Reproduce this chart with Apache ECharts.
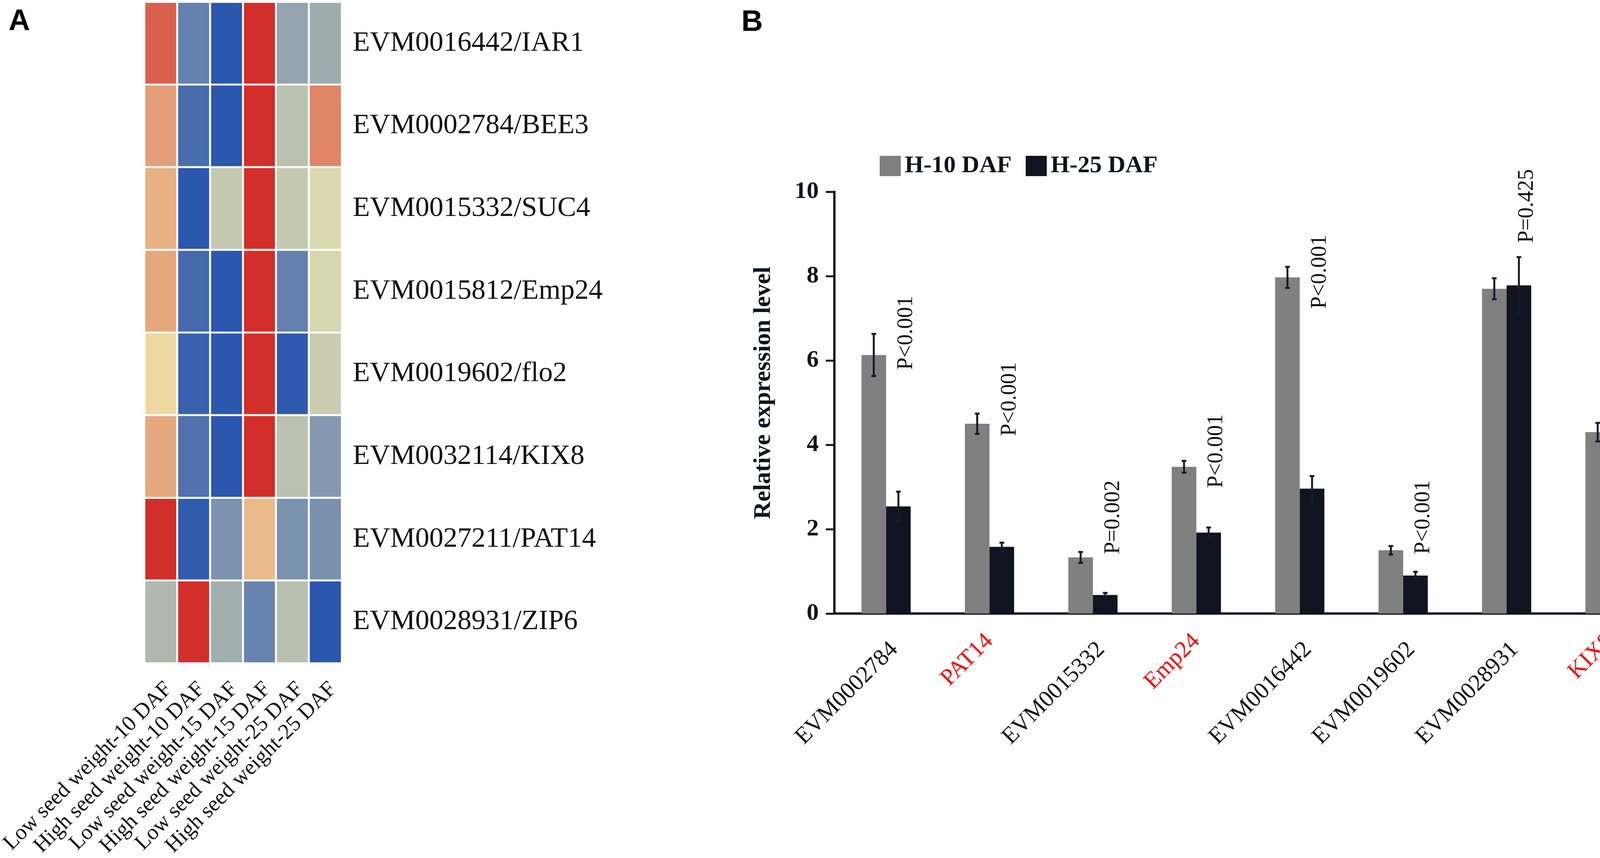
<!DOCTYPE html>
<html>
<head>
<meta charset="utf-8">
<script src="https://cdn.jsdelivr.net/npm/echarts@6/dist/echarts.min.js"></script>
<style>
  html, body { margin: 0; padding: 0; background: #fff; }
  #main { width: 4317px; height: 2197px; }
</style>
</head>
<body>
<div id="main"></div>
<script>
// heatmap (panel A)
var heatCols = ['Low seed weight-10 DAF', 'High seed weight-10 DAF', 'Low seed weight-15 DAF',
                'High seed weight-15 DAF', 'Low seed weight-25 DAF', 'High seed weight-25 DAF'];
var heatRows = ['EVM0016442/IAR1', 'EVM0002784/BEE3', 'EVM0015332/SUC4', 'EVM0015812/Emp24',
                'EVM0019602/flo2', 'EVM0032114/KIX8', 'EVM0027211/PAT14', 'EVM0028931/ZIP6'];
var heatValues = [
    [0.80, -0.79, -1.00, 1.00, -0.61, -0.57],
    [0.56, -0.89, -1.00, 1.00, -0.47, 0.66],
    [0.49, -1.00, -0.43, 1.00, -0.43, -0.35],
    [0.53, -0.91, -1.00, 1.00, -0.79, -0.36],
    [0.33, -0.95, -1.00, 1.00, -0.99, -0.41],
    [0.52, -0.87, -1.00, 1.00, -0.47, -0.67],
    [1.00, -0.98, -0.70, 0.46, -0.70, -0.71],
    [-0.51, 1.00, -0.56, -0.78, -0.48, -1.00]
];

// bar chart (panel B)
var barCats = ['EVM0002784', 'PAT14', 'EVM0015332', 'Emp24', 'EVM0016442', 'EVM0019602', 'EVM0028931', 'KIX8'];
var redCats = ['PAT14', 'Emp24', 'KIX8'];
var h10 = [6.13, 4.50, 1.33, 3.48, 7.97, 1.50, 7.70, 4.30];
var h10Err = [0.50, 0.24, 0.13, 0.14, 0.25, 0.10, 0.25, 0.22];
var h25 = [2.54, 1.58, 0.44, 1.92, 2.96, 0.90, 7.78, 1.34];
var h25Err = [0.35, 0.10, 0.05, 0.12, 0.30, 0.09, 0.67, 0.12];
var pLabels = ['P<0.001', 'P<0.001', 'P=0.002', 'P<0.001', 'P<0.001', 'P<0.001', 'P=0.425', 'P<0.001'];
var pLabelY = [5.78, 4.21, 1.41, 2.98, 7.23, 1.41, 8.79, 2.02];
var yTicks = [0, 2, 4, 6, 8, 10];

var serif = 'Liberation Serif';
var ink = '#111111';
var axisInk = '#0e1422';
var barW = 63;

var heatData = [];
for (var r = 0; r < heatRows.length; r++) {
    for (var c = 0; c < heatCols.length; c++) {
        heatData.push([c, r, heatValues[r][c]]);
    }
}

var catItems = barCats.map(function (name) {
    if (redCats.indexOf(name) >= 0) {
        return { value: name, textStyle: { color: '#ff0000' } };
    }
    return name;
});

var errData = [];
for (var i = 0; i < barCats.length; i++) {
    errData.push([i, h10[i], h10Err[i], -1]);
    errData.push([i, h25[i], h25Err[i], 1]);
}

var myChart = echarts.init(document.getElementById('main'));

myChart.setOption({
    backgroundColor: '#ffffff',
    animation: false,
    graphic: [
        { type: 'text', left: 22, top: 18, style: { text: 'A', fontSize: 76, fontWeight: 'bold', fontFamily: 'Liberation Sans', fill: '#000' } },
        { type: 'text', left: 1898, top: 20, style: { text: 'B', fontSize: 76, fontWeight: 'bold', fontFamily: 'Liberation Sans', fill: '#000' } }
    ],
    legend: {
        data: ['H-10 DAF', 'H-25 DAF'],
        left: 2252,
        top: 394,
        padding: 0,
        icon: 'rect',
        itemWidth: 54,
        itemHeight: 52,
        itemGap: 36,
        textStyle: { fontFamily: serif, fontSize: 62, fontWeight: 'bold', color: axisInk, padding: [0, 0, 0, 5] }
    },
    visualMap: {
        type: 'continuous',
        min: -1,
        max: 1,
        seriesIndex: 0,
        show: false,
        inRange: { color: ['#2c57ae', '#dedcb0', '#eed9a0', '#d22e2a'] }
    },
    grid: [
        { left: 337, top: 5, width: 538, height: 1738 },
        { left: 2136, top: 491, width: 2118, height: 1080 }
    ],
    xAxis: [
        {
            type: 'category',
            gridIndex: 0,
            data: heatCols,
            axisLine: { show: false },
            axisTick: { show: false },
            splitArea: { show: false },
            axisLabel: { rotate: 45, margin: 38, verticalAlign: 'top', fontFamily: serif, fontSize: 56, color: ink, interval: 0 }
        },
        {
            type: 'category',
            gridIndex: 1,
            data: catItems,
            axisLine: { lineStyle: { color: axisInk, width: 6 } },
            axisTick: { show: false },
            axisLabel: { rotate: 45, margin: 62, verticalAlign: 'top', fontFamily: serif, fontSize: 60, color: ink, interval: 0 }
        }
    ],
    yAxis: [
        {
            type: 'category',
            gridIndex: 0,
            data: heatRows,
            inverse: true,
            position: 'right',
            axisLine: { show: false },
            axisTick: { show: false },
            axisLabel: { margin: 28, fontFamily: serif, fontSize: 72, color: ink }
        },
        {
            type: 'value',
            gridIndex: 1,
            min: yTicks[0],
            max: yTicks[yTicks.length - 1],
            interval: 2,
            name: 'Relative expression level',
            nameLocation: 'middle',
            nameGap: 150,
            nameTextStyle: { fontFamily: serif, fontSize: 62, fontWeight: 'bold', color: axisInk, padding: [0, 0, 0, 50] },
            axisLine: { show: true, lineStyle: { color: axisInk, width: 6 } },
            axisTick: { show: true, inside: false, length: 22, lineStyle: { color: axisInk, width: 5 } },
            splitLine: { show: false },
            axisLabel: { margin: 40, fontFamily: serif, fontSize: 62, fontWeight: 'bold', color: axisInk }
        }
    ],
    series: [
        {
            type: 'heatmap',
            xAxisIndex: 0,
            yAxisIndex: 0,
            data: heatData,
            itemStyle: { borderColor: '#ffffff', borderWidth: 5 },
            emphasis: { disabled: true }
        },
        {
            name: 'H-10 DAF',
            type: 'bar',
            xAxisIndex: 1,
            yAxisIndex: 1,
            data: h10,
            barWidth: barW,
            barGap: '0%',
            itemStyle: { color: '#808080' }
        },
        {
            name: 'H-25 DAF',
            type: 'bar',
            xAxisIndex: 1,
            yAxisIndex: 1,
            data: h25,
            barWidth: barW,
            barGap: '0%',
            itemStyle: { color: '#0f1420' }
        },
        {
            // error bars
            type: 'custom',
            xAxisIndex: 1,
            yAxisIndex: 1,
            data: errData,
            z: 10,
            renderItem: function (params, api) {
                var ci = api.value(0), v = api.value(1), e = api.value(2), side = api.value(3);
                var hi = api.coord([ci, v + e]);
                var lo = api.coord([ci, v - e]);
                var x = hi[0] + side * barW / 2;
                var cap = 6;
                var st = { stroke: '#151a2a', lineWidth: 5 };
                return {
                    type: 'group',
                    children: [
                        { type: 'line', shape: { x1: x, y1: hi[1], x2: x, y2: lo[1] }, style: st },
                        { type: 'line', shape: { x1: x - cap, y1: hi[1], x2: x + cap, y2: hi[1] }, style: st },
                        { type: 'line', shape: { x1: x - cap, y1: lo[1], x2: x + cap, y2: lo[1] }, style: st }
                    ]
                };
            }
        },
        {
            // p-value annotations
            type: 'custom',
            xAxisIndex: 1,
            yAxisIndex: 1,
            data: pLabelY.map(function (y, i) { return [i, y]; }),
            z: 11,
            renderItem: function (params, api) {
                var pt = api.coord([api.value(0), api.value(1)]);
                return {
                    type: 'text',
                    x: pt[0] + 52,
                    y: pt[1],
                    rotation: Math.PI / 2,
                    style: {
                        text: pLabels[params.dataIndex],
                        fontFamily: serif,
                        fontSize: 56,
                        fill: ink,
                        align: 'left',
                        verticalAlign: 'middle'
                    }
                };
            }
        }
    ]
});
</script>
</body>
</html>
